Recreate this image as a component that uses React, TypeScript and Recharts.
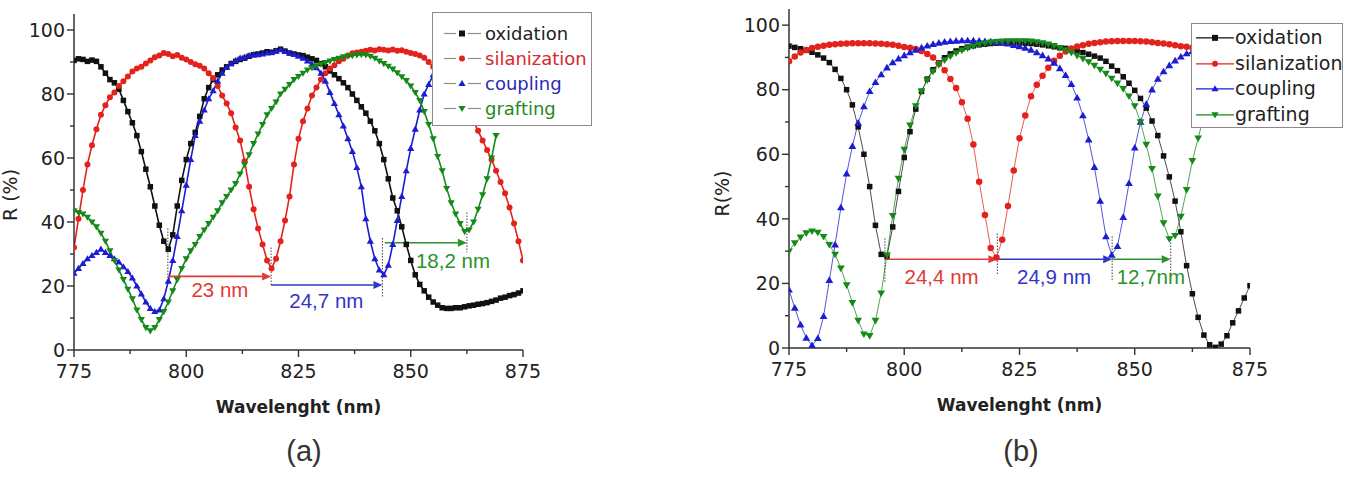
import React from "react";
import { LineChart, Line, XAxis, YAxis, ReferenceLine, ReferenceDot } from "recharts";

// wavelength grids (nm)
const WAVE_A = Array.from({ length: 101 }, (_, i) => 775 + i);
const WAVE_B = Array.from({ length: 81 }, (_, i) => 775 + i * 1.25);

const X_TICKS = [775, 787.5, 800, 812.5, 825, 837.5, 850, 862.5, 875];
const Y_TICKS = [0, 10, 20, 30, 40, 50, 60, 70, 80, 90, 100];

// (a) measured reflectance, 1 nm step
const OXIDATION_A = [
  90.5, 91, 90.8, 90.2, 90.6, 90.2, 88.5, 86.5, 84.5, 83.5,
  81.5, 78, 74.5, 71, 67, 62, 56.5, 51, 45, 39,
  34, 31.5, 36, 45, 53, 59.5, 64.5, 68, 73, 78.5,
  82, 84.5, 86, 87.5, 88.5, 89.5, 90.2, 90.8, 91.2, 91.8,
  92.3, 92.5, 92.8, 93.2, 93, 93.5, 94, 93.4, 92.8, 92.5,
  92.2, 92, 91.5, 91, 90.5, 89.5, 88.5, 87.2, 86, 84.8,
  83.5, 82, 80, 78, 76, 74, 71.5, 68.5, 64.5, 59.5,
  53.5, 47.5, 43.5, 38.5, 33, 28, 23.5, 20.5, 18.5, 16.5,
  15, 14, 13.2, 13, 13, 13.2, 13.2, 13.5, 13.8, 14,
  14.3, 14.5, 14.8, 15.2, 15.6, 16.2, 16.5, 17, 17.3, 17.8, 18.5,
];
const SILANIZATION_A = [
  32, 41, 50, 58, 64, 69, 73.5, 76.5, 79, 80.5,
  82.5, 84, 85.5, 87, 88, 88.5, 89.5, 90.5, 91.5, 92,
  92.8, 92.5, 91.8, 92.2, 91.3, 90.8, 90, 89.3, 88.8, 88,
  86.5, 85, 82.5, 79.5, 77, 74, 69.5, 65.5, 59, 51,
  44, 38, 33, 28, 25.5, 28.5, 34, 40.5, 48, 58,
  66, 71.5, 75.5, 79.5, 82, 84.5, 86.5, 88, 89, 90.2,
  91, 92, 92.7, 93, 93.2, 93.5, 93.8, 93.6, 94, 93.8,
  93.6, 93.9, 93.5, 93.7, 93.2, 92.8, 92.5, 92, 91.3, 90,
  88.5, 87, 85.5, 84, 82, 80, 78, 76, 74, 71.5,
  68.5, 65.5, 62.5, 59.5, 56, 52.5, 49, 44.5, 39.5, 34, 28,
];
const COUPLING_A = [
  24, 25.5, 27, 28.5, 29.5, 30.5, 31.5, 30.5, 29.5, 28.5,
  27.5, 26, 24.5, 22.5, 20, 17.5, 15, 13, 12, 12.5,
  16, 21.5, 28, 35.5, 43.5, 51.5, 59.5, 67, 71.5, 75,
  78.5, 81, 84, 86.5, 88.3, 89.5, 90.5, 91.2, 91.5, 92,
  92.2, 92.3, 92.5, 92.8, 93, 93.4, 93.8, 93.3, 92.8, 92.4,
  91.8, 91.2, 90.3, 89.3, 88.2, 86.5, 84, 80.5, 77, 73.5,
  70, 66, 62, 57, 51, 41, 34, 28.5, 25, 23.5,
  26.5, 33, 40.5, 48, 56, 63, 69, 75, 80, 83, 86,
];
const GRAFTING_A = [
  43.5, 43, 42.5, 41.5, 40, 38.5, 36.5, 34, 31, 28,
  25, 22, 19, 16, 12.5, 9.5, 7, 6, 7, 9.5,
  12, 15, 18.5, 22, 25.5, 28.5, 31, 33, 35.5, 37.5,
  39.5, 41.5, 43.5, 46, 48, 50, 52, 55, 58, 61,
  64.5, 67.5, 70.5, 73.5, 75.5, 77.5, 80, 81.5, 83, 84.5,
  85.5, 86.5, 87.5, 88.2, 88.8, 89.3, 89.8, 90.3, 90.8, 91.2,
  91.6, 91.8, 92, 92.2, 92.3, 92.2, 91.8, 91.2, 90.3, 89.5,
  88.7, 87.8, 86.6, 85.4, 84.2, 82.5, 80.5, 78, 74.5, 70.5,
  66, 60.5, 56, 50.5, 46, 42.5, 39.5, 37, 37.5, 40,
  44, 48.5, 53.5, 60, 67,
];

// (b) simulated reflectance, 1.25 nm step
const OXIDATION_B = [
  93.5, 93.1, 92.7, 92.2, 91.6, 90.8, 89.8, 88.4, 86.3, 83.5,
  80, 75.3, 68.5, 60, 50, 38, 29, 28.5, 37.5, 48.5,
  59, 67, 74, 79.5, 83.3, 86.2, 88.3, 89.9, 91.1, 92,
  92.7, 93.2, 93.6, 93.9, 94.1, 94.3, 94.4, 94.5, 94.5, 94.5,
  94.5, 94.4, 94.3, 94.1, 93.9, 93.6, 93.3, 93, 92.8, 92.4,
  92, 91.5, 91, 90.4, 89.8, 88.8, 87.3, 85.9, 84, 82,
  79.8, 77.3, 74.3, 70.3, 65.8, 59.5, 53, 45.5, 36, 25.5,
  16.8, 9.5, 4, 1, 0.2, 1.2, 3.8, 7.8, 11.5, 15.5, 19.3,
];
const SILANIZATION_B = [
  88.8, 90.3, 91.5, 92.3, 92.9, 93.3, 93.6, 93.9, 94.1, 94.2,
  94.3, 94.4, 94.4, 94.4, 94.4, 94.3, 94.2, 94.1, 93.9, 93.6,
  93.2, 93, 92.6, 92, 91.1, 90, 88.1, 86, 83.3, 80.5,
  76.1, 71, 63, 51.5, 41.2, 31, 28, 33.5, 44, 55,
  65, 72, 78, 81.5, 84.3, 86.8, 89, 90.5, 91.8, 92.8,
  93.4, 93.8, 94.2, 94.5, 94.7, 94.9, 95, 95.1, 95.1, 95.1,
  95.1, 95, 94.9, 94.7, 94.5, 94.3, 94.1, 93.8, 93.5, 93.3,
  93,
];
const COUPLING_B = [
  18, 12.4, 7.2, 3.1, 0.8, 3, 9.8, 21, 32, 43.5,
  54, 62.5, 69.7, 74.8, 79.5, 82.3, 84.7, 86.8, 88.4, 89.6,
  90.6, 91.5, 92.3, 93, 93.6, 94.1, 94.5, 94.8, 95, 95.1,
  95.2, 95.2, 95.2, 95.1, 95, 94.9, 94.7, 94.5, 94.2, 93.8,
  93.4, 92.9, 92.3, 91.5, 90.6, 89.6, 88.3, 86.6, 84.5, 81.7,
  77.5, 72, 64.5, 56, 45.5, 34.5, 28.8, 31.5, 40.5, 51,
  62, 70, 75.5, 80, 83.3, 85.6, 87.5, 89, 90.2, 91.2,
  91.8,
];
const GRAFTING_B = [
  30, 32.5, 34.3, 35.6, 36.2, 35.8, 34.5, 32, 29, 24.7,
  19.5, 14, 8.5, 4.3, 3.8, 8.5, 17, 28.8, 41, 52.5,
  61.5, 69, 75, 79.5, 83, 85.7, 87.7, 89.2, 90.4, 91.4,
  92.2, 92.9, 93.5, 94, 94.4, 94.7, 94.9, 95, 95.1, 95.1,
  95.1, 95.1, 95, 94.8, 94.5, 94.1, 93.6, 93, 92.3, 91.5,
  90.6, 89.6, 88.6, 87.5, 86.3, 85, 83.5, 82, 80.3, 78,
  75, 70, 63, 55.5, 47, 38.7, 33.8, 34.8, 40.7, 49,
  58, 65, 72,
];

const SERIES = [
  { key: "oxidation", color: "#111111", text: "#222222", shape: "square" },
  { key: "silanization", color: "#e3221c", text: "#d62a2a", shape: "circle" },
  { key: "coupling", color: "#1c1cd2", text: "#2a2ab4", shape: "up" },
  { key: "grafting", color: "#158a18", text: "#1e8a22", shape: "down" },
];

// resonance shifts between consecutive dips
const SHIFTS_A = [
  { from: 795.9, to: 818.9, y: 23, color: "#e03a36", text: "23 nm", tx: 807.5, ty: 18.8 },
  { from: 818.9, to: 843.7, y: 20.3, color: "#3434c8", text: "24,7 nm", tx: 831.2, ty: 15.4 },
  { from: 844.2, to: 862.5, y: 33.5, color: "#2a922a", text: "18,2 nm", tx: 859.4, ty: 28 },
];
const DIPS_A = [
  { x: 795.9, top: 38, bottom: 22 },
  { x: 818.9, top: 32, bottom: 20 },
  { x: 843.7, top: 35, bottom: 16.5 },
  { x: 862.5, top: 43, bottom: 30.5 },
];
const SHIFTS_B = [
  { from: 795.8, to: 820.2, y: 27.5, color: "#e03a36", text: "24,4 nm", tx: 808.1, ty: 22.2 },
  { from: 820.2, to: 845.1, y: 27.5, color: "#3434c8", text: "24,9 nm", tx: 832.5, ty: 22.2 },
  { from: 845.1, to: 857.8, y: 27.5, color: "#2a922a", text: "12,7nm", tx: 853.5, ty: 22.2 },
];
const DIPS_B = [
  { x: 795.8, top: 34, bottom: 20.5 },
  { x: 820.2, top: 35.5, bottom: 22.5 },
  { x: 845.1, top: 34.5, bottom: 20.5 },
  { x: 857.8, top: 34.5, bottom: 22 },
];

const AXIS = "#333333";
const TICK_FONT = "'DejaVu Sans', sans-serif";
const NOTE_FONT = "'Liberation Sans', Arial, sans-serif";

const tableA = WAVE_A.map((wl, i) => ({
  wl,
  oxidation: OXIDATION_A[i] ?? null,
  silanization: SILANIZATION_A[i] ?? null,
  coupling: COUPLING_A[i] ?? null,
  grafting: GRAFTING_A[i] ?? null,
}));
const tableB = WAVE_B.map((wl, i) => ({
  wl,
  oxidation: OXIDATION_B[i] ?? null,
  silanization: SILANIZATION_B[i] ?? null,
  coupling: COUPLING_B[i] ?? null,
  grafting: GRAFTING_B[i] ?? null,
}));

function Marker({ cx, cy, shape, size, color }: any) {
  if (cx == null || cy == null || Number.isNaN(cy)) return null;
  const h = size / 2;
  if (shape === "square") {
    return <rect x={cx - h} y={cy - h} width={size} height={size} fill={color} />;
  }
  if (shape === "circle") return <circle cx={cx} cy={cy} r={h} fill={color} />;
  const t = size * 0.6;
  const pts =
    shape === "up"
      ? `${cx},${cy - t} ${cx - t},${cy + t * 0.7} ${cx + t},${cy + t * 0.7}`
      : `${cx},${cy + t} ${cx - t},${cy - t * 0.7} ${cx + t},${cy - t * 0.7}`;
  return <polygon points={pts} fill={color} />;
}

// major ticks get a label, minor ones a short line only
function XTick({ x, y, payload }: any) {
  const major = payload.value % 25 === 0;
  const axisY = y - 15;
  return (
    <g>
      <line x1={x} x2={x} y1={axisY} y2={axisY + (major ? 7 : 4)} stroke={AXIS} strokeWidth={1.4} />
      {major && (
        <text x={x} y={y} dy="0.71em" textAnchor="middle" fontFamily={TICK_FONT} fontSize={19} fill="#222">
          {payload.value}
        </text>
      )}
    </g>
  );
}

function YTick({ x, y, payload }: any) {
  const major = payload.value % 20 === 0;
  const axisX = x + 9;
  return (
    <g>
      <line x1={axisX} x2={axisX - (major ? 7 : 4)} y1={y} y2={y} stroke={AXIS} strokeWidth={1.4} />
      {major && (
        <text x={x} y={y} dy="0.355em" textAnchor="end" fontFamily={TICK_FONT} fontSize={19} fill="#222">
          {payload.value}
        </text>
      )}
    </g>
  );
}

function Arrow({ x1, y1, x2, y2, color }: any) {
  const dir = x2 > x1 ? 1 : -1;
  const head = 9;
  return (
    <g>
      <line x1={x1} y1={y1} x2={x2 - dir * head} y2={y2} stroke={color} strokeWidth={1.6} />
      <polygon points={`${x2},${y2} ${x2 - dir * head},${y2 - 4} ${x2 - dir * head},${y2 + 4}`} fill={color} />
    </g>
  );
}

function axes(yTitle: string, titleOffset: number, titleDy: number, yWidth: number) {
  return [
    <XAxis
      key="x"
      dataKey="wl"
      type="number"
      domain={[775, 875]}
      ticks={X_TICKS}
      interval={0}
      allowDataOverflow
      tick={(p: any) => <XTick {...p} />}
      tickLine={false}
      tickSize={7}
      tickMargin={8}
      height={30}
      axisLine={{ stroke: AXIS, strokeWidth: 1.5 }}
      label={{
        value: "Wavelenght (nm)",
        position: "bottom",
        offset: 21,
        fontFamily: TICK_FONT,
        fontSize: 17,
        fontWeight: 700,
        fill: "#222",
      }}
    />,
    <YAxis
      key="y"
      type="number"
      domain={[0, 105]}
      ticks={Y_TICKS}
      interval={0}
      allowDataOverflow
      tick={(p: any) => <YTick {...p} />}
      tickLine={false}
      tickSize={7}
      tickMargin={2}
      width={yWidth}
      axisLine={{ stroke: AXIS, strokeWidth: 1.5 }}
      label={{
        value: yTitle,
        angle: -90,
        position: "insideLeft",
        offset: titleOffset,
        dy: titleDy,
        fontFamily: TICK_FONT,
        fontSize: 19,
        fill: "#222",
        style: { textAnchor: "middle" },
      }}
    />,
  ];
}

function annotations(shifts: any[], dips: any[], prefix: string) {
  const out: any[] = [];
  dips.forEach((d, i) =>
    out.push(
      <ReferenceLine
        key={`${prefix}-dip-${i}`}
        segment={[{ x: d.x, y: d.top }, { x: d.x, y: d.bottom }]}
        stroke="#555"
        strokeWidth={1.1}
        strokeDasharray="1.5 1.5"
      />
    )
  );
  shifts.forEach((s, i) => {
    out.push(
      <ReferenceLine
        key={`${prefix}-arrow-${i}`}
        segment={[{ x: s.from, y: s.y }, { x: s.to, y: s.y }]}
        shape={(p: any) => <Arrow {...p} color={s.color} />}
      />
    );
    out.push(
      <ReferenceDot
        key={`${prefix}-text-${i}`}
        x={s.tx}
        y={s.ty}
        r={0}
        fill="none"
        stroke="none"
        label={{
          position: "center",
          content: (p: any) => (
            <text
              x={p.viewBox.x}
              y={p.viewBox.y}
              dy="0.36em"
              textAnchor="middle"
              fontFamily={NOTE_FONT}
              fontSize={20.5}
              fill={s.color}
            >
              {s.text}
            </text>
          ),
        }}
      />
    );
  });
  return out;
}

function LegendBox({ left, top, width, height, padTop, rowH, symLeft, textLeft, fontSize, dashed, colored }: any) {
  return (
    <div
      style={{
        position: "absolute",
        left,
        top,
        width,
        height,
        boxSizing: "border-box",
        border: "1.5px solid #8a8a8a",
        background: "#fff",
        paddingTop: padTop,
      }}
    >
      {SERIES.map((s) => (
        <div key={s.key} style={{ position: "relative", height: rowH }}>
          <svg width={40} height={rowH} style={{ position: "absolute", left: symLeft, top: 0 }}>
            {dashed ? (
              <g stroke="#8c8c8c" strokeWidth={1.2}>
                <line x1={1} x2={13} y1={rowH / 2} y2={rowH / 2} />
                <line x1={25} x2={38} y1={rowH / 2} y2={rowH / 2} />
              </g>
            ) : (
              <line x1={0} x2={38} y1={rowH / 2} y2={rowH / 2} stroke={s.color} strokeWidth={1.2} />
            )}
            <Marker cx={19} cy={rowH / 2} shape={s.shape} size={6} color={s.color} />
          </svg>
          <span
            style={{
              position: "absolute",
              left: textLeft,
              top: 0,
              lineHeight: `${rowH}px`,
              fontFamily: TICK_FONT,
              fontSize,
              color: colored ? s.text : "#222",
              whiteSpace: "nowrap",
            }}
          >
            {s.key}
          </span>
        </div>
      ))}
    </div>
  );
}

export default function App() {
  return (
    <div style={{ position: "absolute", left: 0, top: 0, width: 1358, height: 486, background: "#fff", overflow: "hidden" }}>
      <svg width={1358} height={486} style={{ position: "absolute", left: 0, top: 0 }}>
        <text x={304} y={461} textAnchor="middle" fontFamily={NOTE_FONT} fontSize={29} fill="#333">
          (a)
        </text>
        <text x={1021} y={461} textAnchor="middle" fontFamily={NOTE_FONT} fontSize={29} fill="#333">
          (b)
        </text>
      </svg>

      <div style={{ position: "absolute", left: 0, top: 0 }}>
        <LineChart width={600} height={430} data={tableA} margin={{ top: 14, right: 77, bottom: 50, left: 0 }}>
          {axes("R (%)", 10, 13, 74)}
          {SERIES.map((s) => (
            <Line
              key={s.key}
              dataKey={s.key}
              type="linear"
              stroke={s.color}
              strokeWidth={1.6}
              isAnimationActive={false}
              activeDot={false}
              dot={(p: any) => (
                <Marker key={`a-${s.key}-${p.index}`} cx={p.cx} cy={p.cy} shape={s.shape} size={s.shape === "square" ? 5.5 : 6} color={s.color} />
              )}
            />
          ))}
          {annotations(SHIFTS_A, DIPS_A, "a")}
        </LineChart>
      </div>
      <LegendBox left={432} top={12} width={160} height={114} padTop={8} rowH={25} symLeft={10} textLeft={52} fontSize={18} dashed colored />

      <div style={{ position: "absolute", left: 700, top: 0 }}>
        <LineChart width={658} height={430} data={tableB} margin={{ top: 9, right: 108, bottom: 52, left: 0 }}>
          {axes("R(%)", 22.5, 15, 89)}
          {SERIES.map((s) => (
            <Line
              key={s.key}
              dataKey={s.key}
              type="linear"
              stroke={s.color}
              strokeOpacity={0.75}
              strokeWidth={1}
              isAnimationActive={false}
              activeDot={false}
              dot={(p: any) => (
                <Marker key={`b-${s.key}-${p.index}`} cx={p.cx} cy={p.cy} shape={s.shape} size={s.shape === "square" ? 5.5 : 6.5} color={s.color} />
              )}
            />
          ))}
          {annotations(SHIFTS_B, DIPS_B, "b")}
        </LineChart>
      </div>
      <LegendBox left={1191} top={23} width={152} height={105} padTop={1} rowH={25.7} symLeft={4} textLeft={43} fontSize={19} />
    </div>
  );
}
